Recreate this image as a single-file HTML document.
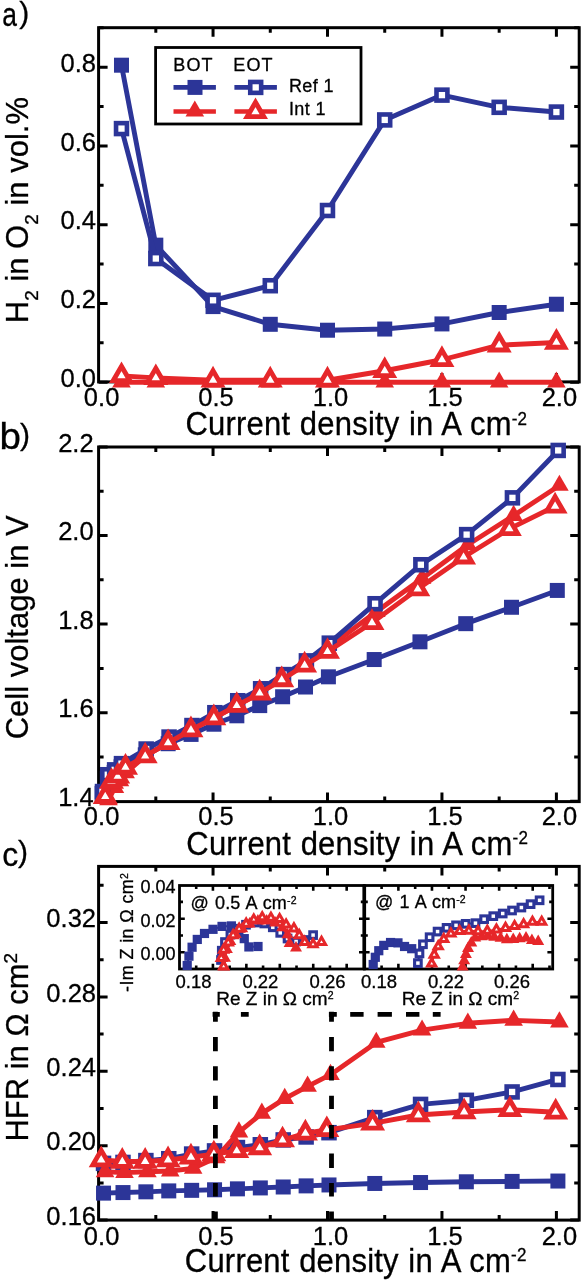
<!DOCTYPE html>
<html><head><meta charset="utf-8"><style>
html,body{margin:0;padding:0;background:#fff;}
svg{display:block;will-change:transform;}
text{font-family:"Liberation Sans",sans-serif;fill:#000;stroke:#000;stroke-width:0.3px;}
</style></head><body>
<svg width="582" height="1280" viewBox="0 0 582 1280" font-family="Liberation Sans, sans-serif">
<rect width="582" height="1280" fill="#fff"/>
<rect x="98.6" y="27.7" width="480.6" height="354.2" fill="none" stroke="#000" stroke-width="3"/>
<path d="M155.82 381.9V376.9M155.82 27.7V32.7M213.05 381.9V372.9M213.05 27.7V36.7M270.27 381.9V376.9M270.27 27.7V32.7M327.5 381.9V372.9M327.5 27.7V36.7M384.73 381.9V376.9M384.73 27.7V32.7M441.95 381.9V372.9M441.95 27.7V36.7M499.17 381.9V376.9M499.17 27.7V32.7M556.4 381.9V372.9M556.4 27.7V36.7M98.6 382.2H107.6M579.2 382.2H570.2M98.6 342.82H103.6M579.2 342.82H574.2M98.6 303.44H107.6M579.2 303.44H570.2M98.6 264.06H103.6M579.2 264.06H574.2M98.6 224.68H107.6M579.2 224.68H570.2M98.6 185.3H103.6M579.2 185.3H574.2M98.6 145.92H107.6M579.2 145.92H570.2M98.6 106.54H103.6M579.2 106.54H574.2M98.6 67.16H107.6M579.2 67.16H570.2M98.6 27.78H103.6M579.2 27.78H574.2" stroke="#000" stroke-width="3" fill="none"/>
<path d="M121.49 65.19L155.82 245.16L213.05 306.59L270.27 324.31L327.5 330.22L384.73 329.04L441.95 323.92L499.17 312.5L556.4 304.23" fill="none" stroke="#2c3598" stroke-width="4.9" stroke-linejoin="round"/>
<rect x="113.99" y="57.69" width="15" height="15" fill="#2c3598"/>
<rect x="148.32" y="237.66" width="15" height="15" fill="#2c3598"/>
<rect x="205.55" y="299.09" width="15" height="15" fill="#2c3598"/>
<rect x="262.77" y="316.81" width="15" height="15" fill="#2c3598"/>
<rect x="320" y="322.72" width="15" height="15" fill="#2c3598"/>
<rect x="377.23" y="321.54" width="15" height="15" fill="#2c3598"/>
<rect x="434.45" y="316.42" width="15" height="15" fill="#2c3598"/>
<rect x="491.67" y="305" width="15" height="15" fill="#2c3598"/>
<rect x="548.9" y="296.73" width="15" height="15" fill="#2c3598"/>
<path d="M121.49 128.59L155.82 258.55L213.05 300.29L270.27 285.72L327.5 210.5L384.73 119.93L441.95 95.12L499.17 107.33L556.4 112.05" fill="none" stroke="#2c3598" stroke-width="4.9" stroke-linejoin="round"/>
<rect x="116.04" y="123.14" width="10.9" height="10.9" fill="#fff" stroke="#2c3598" stroke-width="4.6"/>
<rect x="150.38" y="253.1" width="10.9" height="10.9" fill="#fff" stroke="#2c3598" stroke-width="4.6"/>
<rect x="207.6" y="294.84" width="10.9" height="10.9" fill="#fff" stroke="#2c3598" stroke-width="4.6"/>
<rect x="264.82" y="280.27" width="10.9" height="10.9" fill="#fff" stroke="#2c3598" stroke-width="4.6"/>
<rect x="322.05" y="205.05" width="10.9" height="10.9" fill="#fff" stroke="#2c3598" stroke-width="4.6"/>
<rect x="379.28" y="114.48" width="10.9" height="10.9" fill="#fff" stroke="#2c3598" stroke-width="4.6"/>
<rect x="436.5" y="89.67" width="10.9" height="10.9" fill="#fff" stroke="#2c3598" stroke-width="4.6"/>
<rect x="493.72" y="101.88" width="10.9" height="10.9" fill="#fff" stroke="#2c3598" stroke-width="4.6"/>
<rect x="550.95" y="106.6" width="10.9" height="10.9" fill="#fff" stroke="#2c3598" stroke-width="4.6"/>
<path d="M121.49 382.2L155.82 382.2L213.05 382.2L270.27 382.2L327.5 382.2L384.73 382.2L441.95 382.2L499.17 382.2L556.4 382.2" fill="none" stroke="#e6272a" stroke-width="4.9" stroke-linejoin="round"/>
<path d="M121.49 371.4L130.79 387.6L112.19 387.6Z" fill="#e6272a"/>
<path d="M155.82 371.4L165.12 387.6L146.52 387.6Z" fill="#e6272a"/>
<path d="M213.05 371.4L222.35 387.6L203.75 387.6Z" fill="#e6272a"/>
<path d="M270.27 371.4L279.57 387.6L260.97 387.6Z" fill="#e6272a"/>
<path d="M327.5 371.4L336.8 387.6L318.2 387.6Z" fill="#e6272a"/>
<path d="M384.73 371.4L394.03 387.6L375.43 387.6Z" fill="#e6272a"/>
<path d="M441.95 371.4L451.25 387.6L432.65 387.6Z" fill="#e6272a"/>
<path d="M499.17 371.4L508.47 387.6L489.87 387.6Z" fill="#e6272a"/>
<path d="M556.4 371.4L565.7 387.6L547.1 387.6Z" fill="#e6272a"/>
<path d="M121.49 375.9L155.82 377.87L213.05 380.23L270.27 380.23L327.5 380.23L384.73 370.78L441.95 359.75L499.17 345.18L556.4 342.43" fill="none" stroke="#e6272a" stroke-width="4.9" stroke-linejoin="round"/>
<path d="M121.49 366.27L129.84 380.72L113.14 380.72Z" fill="#fff" stroke="#e6272a" stroke-width="4.8" stroke-linejoin="miter"/>
<path d="M155.82 368.23L164.17 382.68L147.47 382.68Z" fill="#fff" stroke="#e6272a" stroke-width="4.8" stroke-linejoin="miter"/>
<path d="M213.05 370.6L221.4 385.05L204.7 385.05Z" fill="#fff" stroke="#e6272a" stroke-width="4.8" stroke-linejoin="miter"/>
<path d="M270.27 370.6L278.62 385.05L261.92 385.05Z" fill="#fff" stroke="#e6272a" stroke-width="4.8" stroke-linejoin="miter"/>
<path d="M327.5 370.6L335.85 385.05L319.15 385.05Z" fill="#fff" stroke="#e6272a" stroke-width="4.8" stroke-linejoin="miter"/>
<path d="M384.73 361.15L393.08 375.6L376.38 375.6Z" fill="#fff" stroke="#e6272a" stroke-width="4.8" stroke-linejoin="miter"/>
<path d="M441.95 350.12L450.3 364.57L433.6 364.57Z" fill="#fff" stroke="#e6272a" stroke-width="4.8" stroke-linejoin="miter"/>
<path d="M499.17 335.55L507.52 350L490.82 350Z" fill="#fff" stroke="#e6272a" stroke-width="4.8" stroke-linejoin="miter"/>
<path d="M556.4 332.79L564.75 347.24L548.05 347.24Z" fill="#fff" stroke="#e6272a" stroke-width="4.8" stroke-linejoin="miter"/>
<rect x="155.6" y="47.5" width="205.4" height="76.5" fill="#fff" stroke="#000" stroke-width="2.8"/>
<path d="M173.5 87.4H215.9M234.4 87.4H276.9" stroke="#2c3598" stroke-width="4.6"/>
<path d="M173.5 111.5H215.9M234.4 111.5H276.9" stroke="#e6272a" stroke-width="4.6"/>
<rect x="187.5" y="79.9" width="15" height="15" fill="#2c3598"/>
<rect x="250.25" y="81.95" width="10.9" height="10.9" fill="#fff" stroke="#2c3598" stroke-width="4.6"/>
<path d="M194.8 100.4L204.1 116.6L185.5 116.6Z" fill="#e6272a"/>
<path d="M255.5 102.27L263.85 116.72L247.15 116.72Z" fill="#fff" stroke="#e6272a" stroke-width="4.8" stroke-linejoin="miter"/>
<text x="173.3" y="70.7" font-size="18" text-anchor="start" letter-spacing="1.1">BOT</text>
<text x="233.3" y="70.7" font-size="18" text-anchor="start" letter-spacing="1.1">EOT</text>
<text x="288.9" y="91.7" font-size="18" text-anchor="start" letter-spacing="0.4">Ref 1</text>
<text x="288.9" y="114.6" font-size="18" text-anchor="start" letter-spacing="0.4">Int 1</text>
<rect x="98.6" y="447" width="480.6" height="354.6" fill="none" stroke="#000" stroke-width="3"/>
<path d="M155.82 801.6V796.6M155.82 447V452M213.05 801.6V792.6M213.05 447V456M270.27 801.6V796.6M270.27 447V452M327.5 801.6V792.6M327.5 447V456M384.73 801.6V796.6M384.73 447V452M441.95 801.6V792.6M441.95 447V456M499.17 801.6V796.6M499.17 447V452M556.4 801.6V792.6M556.4 447V456M98.6 801.3H107.6M579.2 801.3H570.2M98.6 757H103.6M579.2 757H574.2M98.6 712.7H107.6M579.2 712.7H570.2M98.6 668.4H103.6M579.2 668.4H574.2M98.6 624.1H107.6M579.2 624.1H570.2M98.6 579.8H103.6M579.2 579.8H574.2M98.6 535.5H107.6M579.2 535.5H570.2M98.6 491.2H103.6M579.2 491.2H574.2M98.6 446.9H107.6M579.2 446.9H570.2" stroke="#000" stroke-width="3" fill="none"/>
<path d="M102.09 793.33L107.36 778.26L114.22 772.5L121.09 766.75L145.28 754.79L168.17 743.71L191.06 734.41L213.95 724.22L236.84 715.8L259.73 705.61L282.62 696.75L305.51 687.01L328.4 676.82L374.18 659.54L419.96 641.82L465.74 623.66L511.52 607.27L557.3 590.43" fill="none" stroke="#2c3598" stroke-width="4.9" stroke-linejoin="round"/>
<rect x="94.59" y="785.83" width="15" height="15" fill="#2c3598"/>
<rect x="99.86" y="770.76" width="15" height="15" fill="#2c3598"/>
<rect x="106.72" y="765" width="15" height="15" fill="#2c3598"/>
<rect x="113.59" y="759.25" width="15" height="15" fill="#2c3598"/>
<rect x="137.78" y="747.29" width="15" height="15" fill="#2c3598"/>
<rect x="160.67" y="736.21" width="15" height="15" fill="#2c3598"/>
<rect x="183.56" y="726.91" width="15" height="15" fill="#2c3598"/>
<rect x="206.45" y="716.72" width="15" height="15" fill="#2c3598"/>
<rect x="229.34" y="708.3" width="15" height="15" fill="#2c3598"/>
<rect x="252.23" y="698.11" width="15" height="15" fill="#2c3598"/>
<rect x="275.12" y="689.25" width="15" height="15" fill="#2c3598"/>
<rect x="298.01" y="679.51" width="15" height="15" fill="#2c3598"/>
<rect x="320.9" y="669.32" width="15" height="15" fill="#2c3598"/>
<rect x="366.68" y="652.04" width="15" height="15" fill="#2c3598"/>
<rect x="412.46" y="634.32" width="15" height="15" fill="#2c3598"/>
<rect x="458.24" y="616.16" width="15" height="15" fill="#2c3598"/>
<rect x="504.02" y="599.77" width="15" height="15" fill="#2c3598"/>
<rect x="549.8" y="582.93" width="15" height="15" fill="#2c3598"/>
<path d="M108.47 799.97L114.88 787.57L119.91 780.92L125.63 772.95L145.18 756.11L168.07 742.82L190.96 729.98L213.85 718.02L236.74 705.61L259.63 693.21L281.72 678.59L304.61 663.53L327.5 648.02L376.28 611.7L422.06 578.47L467.84 544.8L513.62 515.57L559.4 485.44" fill="none" stroke="#e6272a" stroke-width="4.9" stroke-linejoin="round"/>
<path d="M108.47 789.17L117.77 805.37L99.17 805.37Z" fill="#e6272a"/>
<path d="M114.88 776.77L124.18 792.97L105.58 792.97Z" fill="#e6272a"/>
<path d="M119.91 770.12L129.21 786.32L110.61 786.32Z" fill="#e6272a"/>
<path d="M125.63 762.15L134.93 778.35L116.33 778.35Z" fill="#e6272a"/>
<path d="M145.18 745.31L154.48 761.51L135.88 761.51Z" fill="#e6272a"/>
<path d="M168.07 732.02L177.37 748.22L158.77 748.22Z" fill="#e6272a"/>
<path d="M190.96 719.18L200.26 735.38L181.66 735.38Z" fill="#e6272a"/>
<path d="M213.85 707.22L223.15 723.42L204.55 723.42Z" fill="#e6272a"/>
<path d="M236.74 694.81L246.04 711.01L227.44 711.01Z" fill="#e6272a"/>
<path d="M259.63 682.41L268.93 698.61L250.33 698.61Z" fill="#e6272a"/>
<path d="M281.72 667.79L291.02 683.99L272.42 683.99Z" fill="#e6272a"/>
<path d="M304.61 652.73L313.91 668.93L295.31 668.93Z" fill="#e6272a"/>
<path d="M327.5 637.22L336.8 653.42L318.2 653.42Z" fill="#e6272a"/>
<path d="M376.28 600.9L385.58 617.1L366.98 617.1Z" fill="#e6272a"/>
<path d="M422.06 567.67L431.36 583.87L412.76 583.87Z" fill="#e6272a"/>
<path d="M467.84 534L477.14 550.2L458.54 550.2Z" fill="#e6272a"/>
<path d="M513.62 504.77L522.92 520.97L504.32 520.97Z" fill="#e6272a"/>
<path d="M559.4 474.64L568.7 490.84L550.1 490.84Z" fill="#e6272a"/>
<path d="M102.49 791.55L107.76 774.72L114.62 769.85L121.49 763.64L146.18 749.03L169.07 737.07L191.96 725.55L214.85 712.7L237.74 700.74L260.63 688.78L283.52 674.6L306.41 660.87L329.3 643.15L375.08 603.72L420.86 564.74L466.64 534.61L512.42 497.85L558.2 450.44" fill="none" stroke="#2c3598" stroke-width="4.9" stroke-linejoin="round"/>
<rect x="97.04" y="786.1" width="10.9" height="10.9" fill="#fff" stroke="#2c3598" stroke-width="4.6"/>
<rect x="102.31" y="769.27" width="10.9" height="10.9" fill="#fff" stroke="#2c3598" stroke-width="4.6"/>
<rect x="109.17" y="764.4" width="10.9" height="10.9" fill="#fff" stroke="#2c3598" stroke-width="4.6"/>
<rect x="116.04" y="758.19" width="10.9" height="10.9" fill="#fff" stroke="#2c3598" stroke-width="4.6"/>
<rect x="140.73" y="743.58" width="10.9" height="10.9" fill="#fff" stroke="#2c3598" stroke-width="4.6"/>
<rect x="163.62" y="731.62" width="10.9" height="10.9" fill="#fff" stroke="#2c3598" stroke-width="4.6"/>
<rect x="186.51" y="720.1" width="10.9" height="10.9" fill="#fff" stroke="#2c3598" stroke-width="4.6"/>
<rect x="209.4" y="707.25" width="10.9" height="10.9" fill="#fff" stroke="#2c3598" stroke-width="4.6"/>
<rect x="232.29" y="695.29" width="10.9" height="10.9" fill="#fff" stroke="#2c3598" stroke-width="4.6"/>
<rect x="255.18" y="683.33" width="10.9" height="10.9" fill="#fff" stroke="#2c3598" stroke-width="4.6"/>
<rect x="278.07" y="669.15" width="10.9" height="10.9" fill="#fff" stroke="#2c3598" stroke-width="4.6"/>
<rect x="300.96" y="655.42" width="10.9" height="10.9" fill="#fff" stroke="#2c3598" stroke-width="4.6"/>
<rect x="323.85" y="637.7" width="10.9" height="10.9" fill="#fff" stroke="#2c3598" stroke-width="4.6"/>
<rect x="369.63" y="598.27" width="10.9" height="10.9" fill="#fff" stroke="#2c3598" stroke-width="4.6"/>
<rect x="415.41" y="559.29" width="10.9" height="10.9" fill="#fff" stroke="#2c3598" stroke-width="4.6"/>
<rect x="461.19" y="529.16" width="10.9" height="10.9" fill="#fff" stroke="#2c3598" stroke-width="4.6"/>
<rect x="506.97" y="492.4" width="10.9" height="10.9" fill="#fff" stroke="#2c3598" stroke-width="4.6"/>
<rect x="552.75" y="444.99" width="10.9" height="10.9" fill="#fff" stroke="#2c3598" stroke-width="4.6"/>
<path d="M105.24 796.69L111.49 781.59L117.69 776.4L125.49 767.41L145.18 756.11L168.07 742.82L190.96 729.98L213.85 718.02L236.74 705.61L259.63 693.21L281.72 679.92L304.61 665.3L327.5 651.57L371.98 622.77L417.76 589.1L463.54 557.21L509.32 528.85L555.1 506.26" fill="none" stroke="#e6272a" stroke-width="4.9" stroke-linejoin="round"/>
<path d="M105.24 787.06L113.59 801.51L96.89 801.51Z" fill="#fff" stroke="#e6272a" stroke-width="4.8" stroke-linejoin="miter"/>
<path d="M111.49 771.95L119.84 786.4L103.14 786.4Z" fill="#fff" stroke="#e6272a" stroke-width="4.8" stroke-linejoin="miter"/>
<path d="M117.69 766.77L126.04 781.22L109.34 781.22Z" fill="#fff" stroke="#e6272a" stroke-width="4.8" stroke-linejoin="miter"/>
<path d="M125.49 757.78L133.84 772.23L117.14 772.23Z" fill="#fff" stroke="#e6272a" stroke-width="4.8" stroke-linejoin="miter"/>
<path d="M145.18 746.48L153.53 760.93L136.83 760.93Z" fill="#fff" stroke="#e6272a" stroke-width="4.8" stroke-linejoin="miter"/>
<path d="M168.07 733.19L176.42 747.64L159.72 747.64Z" fill="#fff" stroke="#e6272a" stroke-width="4.8" stroke-linejoin="miter"/>
<path d="M190.96 720.34L199.31 734.79L182.61 734.79Z" fill="#fff" stroke="#e6272a" stroke-width="4.8" stroke-linejoin="miter"/>
<path d="M213.85 708.38L222.2 722.83L205.5 722.83Z" fill="#fff" stroke="#e6272a" stroke-width="4.8" stroke-linejoin="miter"/>
<path d="M236.74 695.98L245.09 710.43L228.39 710.43Z" fill="#fff" stroke="#e6272a" stroke-width="4.8" stroke-linejoin="miter"/>
<path d="M259.63 683.57L267.98 698.02L251.28 698.02Z" fill="#fff" stroke="#e6272a" stroke-width="4.8" stroke-linejoin="miter"/>
<path d="M281.72 670.28L290.07 684.73L273.37 684.73Z" fill="#fff" stroke="#e6272a" stroke-width="4.8" stroke-linejoin="miter"/>
<path d="M304.61 655.67L312.96 670.12L296.26 670.12Z" fill="#fff" stroke="#e6272a" stroke-width="4.8" stroke-linejoin="miter"/>
<path d="M327.5 641.93L335.85 656.38L319.15 656.38Z" fill="#fff" stroke="#e6272a" stroke-width="4.8" stroke-linejoin="miter"/>
<path d="M371.98 613.14L380.33 627.59L363.63 627.59Z" fill="#fff" stroke="#e6272a" stroke-width="4.8" stroke-linejoin="miter"/>
<path d="M417.76 579.47L426.11 593.92L409.41 593.92Z" fill="#fff" stroke="#e6272a" stroke-width="4.8" stroke-linejoin="miter"/>
<path d="M463.54 547.57L471.89 562.02L455.19 562.02Z" fill="#fff" stroke="#e6272a" stroke-width="4.8" stroke-linejoin="miter"/>
<path d="M509.32 519.22L517.67 533.67L500.97 533.67Z" fill="#fff" stroke="#e6272a" stroke-width="4.8" stroke-linejoin="miter"/>
<path d="M555.1 496.63L563.45 511.08L546.75 511.08Z" fill="#fff" stroke="#e6272a" stroke-width="4.8" stroke-linejoin="miter"/>
<rect x="98.6" y="866.4" width="480.6" height="353.7" fill="none" stroke="#000" stroke-width="3"/>
<path d="M155.82 1220.1V1215.1M155.82 866.4V871.4M213.05 1220.1V1211.1M213.05 866.4V875.4M270.27 1220.1V1215.1M270.27 866.4V871.4M327.5 1220.1V1211.1M327.5 866.4V875.4M384.73 1220.1V1215.1M384.73 866.4V871.4M441.95 1220.1V1211.1M441.95 866.4V875.4M499.17 1220.1V1215.1M499.17 866.4V871.4M556.4 1220.1V1211.1M556.4 866.4V875.4M98.6 1220.1H107.6M579.2 1220.1H570.2M98.6 1182.9H103.6M579.2 1182.9H574.2M98.6 1145.7H107.6M579.2 1145.7H570.2M98.6 1108.5H103.6M579.2 1108.5H574.2M98.6 1071.3H107.6M579.2 1071.3H570.2M98.6 1034.1H103.6M579.2 1034.1H574.2M98.6 996.9H107.6M579.2 996.9H570.2M98.6 959.7H103.6M579.2 959.7H574.2M98.6 922.5H107.6M579.2 922.5H570.2M98.6 885.3H103.6M579.2 885.3H574.2" stroke="#000" stroke-width="3" fill="none"/>
<path d="M103.53 1193.13L122.99 1192.57L145.88 1191.83L168.77 1190.9L191.66 1190.34L214.55 1189.78L237.44 1188.85L260.33 1187.92L283.22 1186.99L306.11 1185.88L329 1184.95L374.78 1183.46L420.56 1182.53L466.34 1181.78L512.12 1181.41L557.9 1181.04" fill="none" stroke="#2c3598" stroke-width="4.9" stroke-linejoin="round"/>
<rect x="96.03" y="1185.63" width="15" height="15" fill="#2c3598"/>
<rect x="115.49" y="1185.07" width="15" height="15" fill="#2c3598"/>
<rect x="138.38" y="1184.33" width="15" height="15" fill="#2c3598"/>
<rect x="161.27" y="1183.4" width="15" height="15" fill="#2c3598"/>
<rect x="184.16" y="1182.84" width="15" height="15" fill="#2c3598"/>
<rect x="207.05" y="1182.28" width="15" height="15" fill="#2c3598"/>
<rect x="229.94" y="1181.35" width="15" height="15" fill="#2c3598"/>
<rect x="252.83" y="1180.42" width="15" height="15" fill="#2c3598"/>
<rect x="275.72" y="1179.49" width="15" height="15" fill="#2c3598"/>
<rect x="298.61" y="1178.38" width="15" height="15" fill="#2c3598"/>
<rect x="321.5" y="1177.45" width="15" height="15" fill="#2c3598"/>
<rect x="367.28" y="1175.96" width="15" height="15" fill="#2c3598"/>
<rect x="413.06" y="1175.03" width="15" height="15" fill="#2c3598"/>
<rect x="458.84" y="1174.28" width="15" height="15" fill="#2c3598"/>
<rect x="504.62" y="1173.91" width="15" height="15" fill="#2c3598"/>
<rect x="550.4" y="1173.54" width="15" height="15" fill="#2c3598"/>
<path d="M103.53 1163.37L122.99 1162.44L145.88 1160.58L168.77 1158.72L191.66 1154.07L214.55 1150.91L237.44 1147.56L260.33 1144.77L283.22 1139.93L306.11 1136.96L329 1132.68L374.78 1117.61L420.56 1104.41L466.34 1100.32L512.12 1091.95L557.9 1079.48" fill="none" stroke="#2c3598" stroke-width="4.9" stroke-linejoin="round"/>
<rect x="98.08" y="1157.92" width="10.9" height="10.9" fill="#fff" stroke="#2c3598" stroke-width="4.6"/>
<rect x="117.54" y="1156.99" width="10.9" height="10.9" fill="#fff" stroke="#2c3598" stroke-width="4.6"/>
<rect x="140.43" y="1155.13" width="10.9" height="10.9" fill="#fff" stroke="#2c3598" stroke-width="4.6"/>
<rect x="163.32" y="1153.27" width="10.9" height="10.9" fill="#fff" stroke="#2c3598" stroke-width="4.6"/>
<rect x="186.21" y="1148.62" width="10.9" height="10.9" fill="#fff" stroke="#2c3598" stroke-width="4.6"/>
<rect x="209.1" y="1145.46" width="10.9" height="10.9" fill="#fff" stroke="#2c3598" stroke-width="4.6"/>
<rect x="231.99" y="1142.11" width="10.9" height="10.9" fill="#fff" stroke="#2c3598" stroke-width="4.6"/>
<rect x="254.88" y="1139.32" width="10.9" height="10.9" fill="#fff" stroke="#2c3598" stroke-width="4.6"/>
<rect x="277.77" y="1134.48" width="10.9" height="10.9" fill="#fff" stroke="#2c3598" stroke-width="4.6"/>
<rect x="300.66" y="1131.51" width="10.9" height="10.9" fill="#fff" stroke="#2c3598" stroke-width="4.6"/>
<rect x="323.55" y="1127.23" width="10.9" height="10.9" fill="#fff" stroke="#2c3598" stroke-width="4.6"/>
<rect x="369.33" y="1112.16" width="10.9" height="10.9" fill="#fff" stroke="#2c3598" stroke-width="4.6"/>
<rect x="415.11" y="1098.96" width="10.9" height="10.9" fill="#fff" stroke="#2c3598" stroke-width="4.6"/>
<rect x="460.89" y="1094.87" width="10.9" height="10.9" fill="#fff" stroke="#2c3598" stroke-width="4.6"/>
<rect x="506.67" y="1086.5" width="10.9" height="10.9" fill="#fff" stroke="#2c3598" stroke-width="4.6"/>
<rect x="552.45" y="1074.03" width="10.9" height="10.9" fill="#fff" stroke="#2c3598" stroke-width="4.6"/>
<path d="M105.03 1171.74L124.49 1172.67L147.38 1171.74L170.27 1171L193.16 1168.39L216.05 1157.79L238.94 1132.12L261.83 1113.34L284.72 1098.64L307.61 1086.37L330.5 1074.65L376.28 1042.47L422.06 1030.19L467.84 1023.31L513.62 1020.34L559.4 1022.01" fill="none" stroke="#e6272a" stroke-width="4.9" stroke-linejoin="round"/>
<path d="M105.03 1160.94L114.33 1177.14L95.73 1177.14Z" fill="#e6272a"/>
<path d="M124.49 1161.87L133.79 1178.07L115.19 1178.07Z" fill="#e6272a"/>
<path d="M147.38 1160.94L156.68 1177.14L138.08 1177.14Z" fill="#e6272a"/>
<path d="M170.27 1160.2L179.57 1176.4L160.97 1176.4Z" fill="#e6272a"/>
<path d="M193.16 1157.59L202.46 1173.79L183.86 1173.79Z" fill="#e6272a"/>
<path d="M216.05 1146.99L225.35 1163.19L206.75 1163.19Z" fill="#e6272a"/>
<path d="M238.94 1121.32L248.24 1137.52L229.64 1137.52Z" fill="#e6272a"/>
<path d="M261.83 1102.54L271.13 1118.74L252.53 1118.74Z" fill="#e6272a"/>
<path d="M284.72 1087.84L294.02 1104.04L275.42 1104.04Z" fill="#e6272a"/>
<path d="M307.61 1075.57L316.91 1091.77L298.31 1091.77Z" fill="#e6272a"/>
<path d="M330.5 1063.85L339.8 1080.05L321.2 1080.05Z" fill="#e6272a"/>
<path d="M376.28 1031.67L385.58 1047.87L366.98 1047.87Z" fill="#e6272a"/>
<path d="M422.06 1019.39L431.36 1035.59L412.76 1035.59Z" fill="#e6272a"/>
<path d="M467.84 1012.51L477.14 1028.71L458.54 1028.71Z" fill="#e6272a"/>
<path d="M513.62 1009.54L522.92 1025.74L504.32 1025.74Z" fill="#e6272a"/>
<path d="M559.4 1011.21L568.7 1027.41L550.1 1027.41Z" fill="#e6272a"/>
<path d="M101.23 1160.02L122.29 1161.51L145.18 1161.51L168.07 1160.02L190.96 1157.23L213.85 1154.07L236.74 1150.91L259.63 1147.93L282.52 1140.12L305.41 1133.24L326.8 1129.89L372.58 1123.38L418.36 1115.01L464.14 1112.03L509.92 1109.8L555.7 1112.22" fill="none" stroke="#e6272a" stroke-width="4.9" stroke-linejoin="round"/>
<path d="M101.23 1150.39L109.58 1164.84L92.88 1164.84Z" fill="#fff" stroke="#e6272a" stroke-width="4.8" stroke-linejoin="miter"/>
<path d="M122.29 1151.88L130.64 1166.33L113.94 1166.33Z" fill="#fff" stroke="#e6272a" stroke-width="4.8" stroke-linejoin="miter"/>
<path d="M145.18 1151.88L153.53 1166.33L136.83 1166.33Z" fill="#fff" stroke="#e6272a" stroke-width="4.8" stroke-linejoin="miter"/>
<path d="M168.07 1150.39L176.42 1164.84L159.72 1164.84Z" fill="#fff" stroke="#e6272a" stroke-width="4.8" stroke-linejoin="miter"/>
<path d="M190.96 1147.6L199.31 1162.05L182.61 1162.05Z" fill="#fff" stroke="#e6272a" stroke-width="4.8" stroke-linejoin="miter"/>
<path d="M213.85 1144.44L222.2 1158.89L205.5 1158.89Z" fill="#fff" stroke="#e6272a" stroke-width="4.8" stroke-linejoin="miter"/>
<path d="M236.74 1141.27L245.09 1155.72L228.39 1155.72Z" fill="#fff" stroke="#e6272a" stroke-width="4.8" stroke-linejoin="miter"/>
<path d="M259.63 1138.3L267.98 1152.75L251.28 1152.75Z" fill="#fff" stroke="#e6272a" stroke-width="4.8" stroke-linejoin="miter"/>
<path d="M282.52 1130.49L290.87 1144.94L274.17 1144.94Z" fill="#fff" stroke="#e6272a" stroke-width="4.8" stroke-linejoin="miter"/>
<path d="M305.41 1123.6L313.76 1138.05L297.06 1138.05Z" fill="#fff" stroke="#e6272a" stroke-width="4.8" stroke-linejoin="miter"/>
<path d="M326.8 1120.26L335.15 1134.71L318.45 1134.71Z" fill="#fff" stroke="#e6272a" stroke-width="4.8" stroke-linejoin="miter"/>
<path d="M372.58 1113.75L380.93 1128.2L364.23 1128.2Z" fill="#fff" stroke="#e6272a" stroke-width="4.8" stroke-linejoin="miter"/>
<path d="M418.36 1105.38L426.71 1119.83L410.01 1119.83Z" fill="#fff" stroke="#e6272a" stroke-width="4.8" stroke-linejoin="miter"/>
<path d="M464.14 1102.4L472.49 1116.85L455.79 1116.85Z" fill="#fff" stroke="#e6272a" stroke-width="4.8" stroke-linejoin="miter"/>
<path d="M509.92 1100.17L518.27 1114.62L501.57 1114.62Z" fill="#fff" stroke="#e6272a" stroke-width="4.8" stroke-linejoin="miter"/>
<path d="M555.7 1102.59L564.05 1117.04L547.35 1117.04Z" fill="#fff" stroke="#e6272a" stroke-width="4.8" stroke-linejoin="miter"/>
<path d="M215.4 1011.7V1021.8M215.4 1036.9V1051.2M215.4 1066.3V1080.6M215.4 1095.7V1109.1M215.4 1125.1V1138.5M215.4 1153.6V1167.9M215.4 1183V1196.5M215.4 1211.6V1220M331.5 1011.7V1021.8M331.5 1036.9V1051.2M331.5 1066.3V1080.6M331.5 1095.7V1109.1M331.5 1125.1V1138.5M331.5 1153.6V1167.9M331.5 1183V1196.5M331.5 1211.6V1220M212.6 1014.3H219.8M240.9 1014.3H248.7M328.9 1014.3H336.8M350.2 1014.3H363.6M377.6 1014.3H391.9M406 1014.3H419.4M432.8 1014.3H440.6" stroke="#000" stroke-width="4.8" fill="none"/>
<rect x="179.5" y="885.5" width="184.8" height="83.5" fill="#fff" stroke="#000" stroke-width="2.8"/>
<path d="M196.2 969V965.5M196.2 885.5V889M212.92 969V963.7M212.92 885.5V890.8M229.64 969V965.5M229.64 885.5V889M246.36 969V963.7M246.36 885.5V890.8M263.08 969V965.5M263.08 885.5V889M279.8 969V963.7M279.8 885.5V890.8M296.52 969V965.5M296.52 885.5V889M313.24 969V963.7M313.24 885.5V890.8M329.96 969V965.5M329.96 885.5V889M346.68 969V963.7M346.68 885.5V890.8M179.5 952.3H184.8M364.3 952.3H359M179.5 935.5H183M364.3 935.5H360.8M179.5 918.7H184.8M364.3 918.7H359M179.5 901.9H183M364.3 901.9H360.8" stroke="#000" stroke-width="2.6" fill="none"/>
<rect x="364.3" y="885.5" width="188.4" height="83.5" fill="#fff" stroke="#000" stroke-width="2.8"/>
<path d="M381.6 969V965.5M381.6 885.5V889M398.39 969V963.7M398.39 885.5V890.8M415.18 969V965.5M415.18 885.5V889M431.97 969V963.7M431.97 885.5V890.8M448.76 969V965.5M448.76 885.5V889M465.55 969V963.7M465.55 885.5V890.8M482.34 969V965.5M482.34 885.5V889M499.13 969V963.7M499.13 885.5V890.8M515.92 969V965.5M515.92 885.5V889M532.71 969V963.7M532.71 885.5V890.8M549.5 969V965.5M549.5 885.5V889M364.3 952.3H369.6M552.7 952.3H547.4M364.3 935.5H367.8M552.7 935.5H549.2M364.3 918.7H369.6M552.7 918.7H547.4M364.3 901.9H367.8M552.7 901.9H549.2" stroke="#000" stroke-width="2.6" fill="none"/>
<path d="M187.2 965.5L188.94 956.16L192.08 947.22L197.28 939.43L204.49 933.47L213.02 929.32L222.04 926.4L231.37 925.91L238.84 930.88L244.26 938.64L248.89 946.93L258 946.5" fill="none" stroke="#2c3598" stroke-width="2" stroke-linejoin="round"/>
<rect x="182.6" y="960.9" width="9.2" height="9.2" fill="#2c3598"/>
<rect x="184.34" y="951.56" width="9.2" height="9.2" fill="#2c3598"/>
<rect x="187.48" y="942.62" width="9.2" height="9.2" fill="#2c3598"/>
<rect x="192.68" y="934.83" width="9.2" height="9.2" fill="#2c3598"/>
<rect x="199.89" y="928.87" width="9.2" height="9.2" fill="#2c3598"/>
<rect x="208.42" y="924.72" width="9.2" height="9.2" fill="#2c3598"/>
<rect x="217.44" y="921.8" width="9.2" height="9.2" fill="#2c3598"/>
<rect x="226.77" y="921.31" width="9.2" height="9.2" fill="#2c3598"/>
<rect x="234.24" y="926.28" width="9.2" height="9.2" fill="#2c3598"/>
<rect x="239.66" y="934.04" width="9.2" height="9.2" fill="#2c3598"/>
<rect x="244.29" y="942.33" width="9.2" height="9.2" fill="#2c3598"/>
<rect x="253.4" y="941.9" width="9.2" height="9.2" fill="#2c3598"/>
<path d="M221 960L221.78 950.69L224.98 942.05L230.41 934.59L237.55 928.72L245.99 924.75L255.06 922.51L264.35 923.48L272.8 927.32L280.23 932.84L287.55 938.52L296.09 941.52L305.14 939.99L313.1 935.1" fill="none" stroke="#2c3598" stroke-width="2" stroke-linejoin="round"/>
<rect x="217.7" y="956.7" width="6.6" height="6.6" fill="#fff" stroke="#2c3598" stroke-width="3.1"/>
<rect x="218.48" y="947.39" width="6.6" height="6.6" fill="#fff" stroke="#2c3598" stroke-width="3.1"/>
<rect x="221.68" y="938.75" width="6.6" height="6.6" fill="#fff" stroke="#2c3598" stroke-width="3.1"/>
<rect x="227.11" y="931.29" width="6.6" height="6.6" fill="#fff" stroke="#2c3598" stroke-width="3.1"/>
<rect x="234.25" y="925.42" width="6.6" height="6.6" fill="#fff" stroke="#2c3598" stroke-width="3.1"/>
<rect x="242.69" y="921.45" width="6.6" height="6.6" fill="#fff" stroke="#2c3598" stroke-width="3.1"/>
<rect x="251.76" y="919.21" width="6.6" height="6.6" fill="#fff" stroke="#2c3598" stroke-width="3.1"/>
<rect x="261.05" y="920.18" width="6.6" height="6.6" fill="#fff" stroke="#2c3598" stroke-width="3.1"/>
<rect x="269.5" y="924.02" width="6.6" height="6.6" fill="#fff" stroke="#2c3598" stroke-width="3.1"/>
<rect x="276.93" y="929.54" width="6.6" height="6.6" fill="#fff" stroke="#2c3598" stroke-width="3.1"/>
<rect x="284.25" y="935.22" width="6.6" height="6.6" fill="#fff" stroke="#2c3598" stroke-width="3.1"/>
<rect x="292.79" y="938.22" width="6.6" height="6.6" fill="#fff" stroke="#2c3598" stroke-width="3.1"/>
<rect x="301.84" y="936.69" width="6.6" height="6.6" fill="#fff" stroke="#2c3598" stroke-width="3.1"/>
<rect x="309.8" y="931.8" width="6.6" height="6.6" fill="#fff" stroke="#2c3598" stroke-width="3.1"/>
<path d="M224 967L224.97 958.23L226.86 949.62L230.32 941.52L235.71 934.61L242.22 928.72L249.6 924.05L257.89 921.04L266.7 921L275.13 923.05L282.18 927.83L287.56 934.82L289.6 943.38L296 948" fill="none" stroke="#e6272a" stroke-width="2" stroke-linejoin="round"/>
<path d="M224 960L230 970.5L218 970.5Z" fill="#e6272a"/>
<path d="M224.97 951.23L230.97 961.73L218.97 961.73Z" fill="#e6272a"/>
<path d="M226.86 942.62L232.86 953.12L220.86 953.12Z" fill="#e6272a"/>
<path d="M230.32 934.52L236.32 945.02L224.32 945.02Z" fill="#e6272a"/>
<path d="M235.71 927.61L241.71 938.11L229.71 938.11Z" fill="#e6272a"/>
<path d="M242.22 921.72L248.22 932.22L236.22 932.22Z" fill="#e6272a"/>
<path d="M249.6 917.05L255.6 927.55L243.6 927.55Z" fill="#e6272a"/>
<path d="M257.89 914.04L263.89 924.54L251.89 924.54Z" fill="#e6272a"/>
<path d="M266.7 914L272.7 924.5L260.7 924.5Z" fill="#e6272a"/>
<path d="M275.13 916.05L281.13 926.55L269.13 926.55Z" fill="#e6272a"/>
<path d="M282.18 920.83L288.18 931.33L276.18 931.33Z" fill="#e6272a"/>
<path d="M287.56 927.82L293.56 938.32L281.56 938.32Z" fill="#e6272a"/>
<path d="M289.6 936.38L295.6 946.88L283.6 946.88Z" fill="#e6272a"/>
<path d="M296 941L302 951.5L290 951.5Z" fill="#e6272a"/>
<path d="M223.6 966.4L221.28 958.18L223.56 949.89L228.28 942.53L233.13 935.29L239.12 928.92L246.15 923.76L253.76 919.68L262.22 917.47L270.94 917.93L279.58 919.25L286.1 924.68L293.92 928.51L299.23 935.26L304.69 942.09L313.05 944.35L321.5 942.1" fill="none" stroke="#e6272a" stroke-width="2" stroke-linejoin="round"/>
<path d="M223.6 961.67L227.7 968.77L219.5 968.77Z" fill="#fff" stroke="#e6272a" stroke-width="3" stroke-linejoin="miter"/>
<path d="M221.28 953.44L225.38 960.54L217.18 960.54Z" fill="#fff" stroke="#e6272a" stroke-width="3" stroke-linejoin="miter"/>
<path d="M223.56 945.16L227.66 952.26L219.46 952.26Z" fill="#fff" stroke="#e6272a" stroke-width="3" stroke-linejoin="miter"/>
<path d="M228.28 937.79L232.38 944.89L224.18 944.89Z" fill="#fff" stroke="#e6272a" stroke-width="3" stroke-linejoin="miter"/>
<path d="M233.13 930.56L237.23 937.66L229.03 937.66Z" fill="#fff" stroke="#e6272a" stroke-width="3" stroke-linejoin="miter"/>
<path d="M239.12 924.19L243.22 931.29L235.02 931.29Z" fill="#fff" stroke="#e6272a" stroke-width="3" stroke-linejoin="miter"/>
<path d="M246.15 919.03L250.25 926.13L242.05 926.13Z" fill="#fff" stroke="#e6272a" stroke-width="3" stroke-linejoin="miter"/>
<path d="M253.76 914.95L257.86 922.05L249.66 922.05Z" fill="#fff" stroke="#e6272a" stroke-width="3" stroke-linejoin="miter"/>
<path d="M262.22 912.74L266.32 919.84L258.12 919.84Z" fill="#fff" stroke="#e6272a" stroke-width="3" stroke-linejoin="miter"/>
<path d="M270.94 913.19L275.04 920.29L266.84 920.29Z" fill="#fff" stroke="#e6272a" stroke-width="3" stroke-linejoin="miter"/>
<path d="M279.58 914.51L283.68 921.61L275.48 921.61Z" fill="#fff" stroke="#e6272a" stroke-width="3" stroke-linejoin="miter"/>
<path d="M286.1 919.95L290.2 927.05L282 927.05Z" fill="#fff" stroke="#e6272a" stroke-width="3" stroke-linejoin="miter"/>
<path d="M293.92 923.78L298.02 930.88L289.82 930.88Z" fill="#fff" stroke="#e6272a" stroke-width="3" stroke-linejoin="miter"/>
<path d="M299.23 930.53L303.33 937.63L295.13 937.63Z" fill="#fff" stroke="#e6272a" stroke-width="3" stroke-linejoin="miter"/>
<path d="M304.69 937.35L308.79 944.45L300.59 944.45Z" fill="#fff" stroke="#e6272a" stroke-width="3" stroke-linejoin="miter"/>
<path d="M313.05 939.62L317.15 946.72L308.95 946.72Z" fill="#fff" stroke="#e6272a" stroke-width="3" stroke-linejoin="miter"/>
<path d="M321.5 937.37L325.6 944.47L317.4 944.47Z" fill="#fff" stroke="#e6272a" stroke-width="3" stroke-linejoin="miter"/>
<path d="M373.2 964.5L375.3 957.29L378.77 950.71L383.77 945.38L390.55 942.5L397.97 942.87L404.55 946.48L411.7 948.7" fill="none" stroke="#2c3598" stroke-width="2" stroke-linejoin="round"/>
<rect x="368.6" y="959.9" width="9.2" height="9.2" fill="#2c3598"/>
<rect x="370.7" y="952.69" width="9.2" height="9.2" fill="#2c3598"/>
<rect x="374.17" y="946.11" width="9.2" height="9.2" fill="#2c3598"/>
<rect x="379.17" y="940.78" width="9.2" height="9.2" fill="#2c3598"/>
<rect x="385.95" y="937.9" width="9.2" height="9.2" fill="#2c3598"/>
<rect x="393.37" y="938.27" width="9.2" height="9.2" fill="#2c3598"/>
<rect x="399.95" y="941.88" width="9.2" height="9.2" fill="#2c3598"/>
<rect x="407.1" y="944.1" width="9.2" height="9.2" fill="#2c3598"/>
<path d="M417.9 963.1L419.48 953.42L422.95 944.29L429.61 937.21L437.57 931.57L446.57 927.86L456.03 925.33L465.7 923.84L475.48 923.17L484.13 919.2L493.29 916.16L502.71 913.51L512.04 910.49L521.39 907.54L530.58 904.15L539.6 900.3" fill="none" stroke="#2c3598" stroke-width="2" stroke-linejoin="round"/>
<rect x="414.6" y="959.8" width="6.6" height="6.6" fill="#fff" stroke="#2c3598" stroke-width="3.1"/>
<rect x="416.18" y="950.12" width="6.6" height="6.6" fill="#fff" stroke="#2c3598" stroke-width="3.1"/>
<rect x="419.65" y="940.99" width="6.6" height="6.6" fill="#fff" stroke="#2c3598" stroke-width="3.1"/>
<rect x="426.31" y="933.91" width="6.6" height="6.6" fill="#fff" stroke="#2c3598" stroke-width="3.1"/>
<rect x="434.27" y="928.27" width="6.6" height="6.6" fill="#fff" stroke="#2c3598" stroke-width="3.1"/>
<rect x="443.27" y="924.56" width="6.6" height="6.6" fill="#fff" stroke="#2c3598" stroke-width="3.1"/>
<rect x="452.73" y="922.03" width="6.6" height="6.6" fill="#fff" stroke="#2c3598" stroke-width="3.1"/>
<rect x="462.4" y="920.54" width="6.6" height="6.6" fill="#fff" stroke="#2c3598" stroke-width="3.1"/>
<rect x="472.18" y="919.87" width="6.6" height="6.6" fill="#fff" stroke="#2c3598" stroke-width="3.1"/>
<rect x="480.83" y="915.9" width="6.6" height="6.6" fill="#fff" stroke="#2c3598" stroke-width="3.1"/>
<rect x="489.99" y="912.86" width="6.6" height="6.6" fill="#fff" stroke="#2c3598" stroke-width="3.1"/>
<rect x="499.41" y="910.21" width="6.6" height="6.6" fill="#fff" stroke="#2c3598" stroke-width="3.1"/>
<rect x="508.74" y="907.19" width="6.6" height="6.6" fill="#fff" stroke="#2c3598" stroke-width="3.1"/>
<rect x="518.09" y="904.24" width="6.6" height="6.6" fill="#fff" stroke="#2c3598" stroke-width="3.1"/>
<rect x="527.28" y="900.85" width="6.6" height="6.6" fill="#fff" stroke="#2c3598" stroke-width="3.1"/>
<rect x="536.3" y="897" width="6.6" height="6.6" fill="#fff" stroke="#2c3598" stroke-width="3.1"/>
<path d="M462.6 966.9L464.19 960.67L465.9 954.47L468.03 948.4L471.27 942.93L475.24 937.95L481.55 936.69L487.89 936.36L494.27 937.16L500.59 938.32L506.86 939.74L513.24 939.48L519.64 938.81L526.02 938.06L531.9 940.49L538.2 941.5" fill="none" stroke="#e6272a" stroke-width="2" stroke-linejoin="round"/>
<path d="M462.6 959.9L468.6 970.4L456.6 970.4Z" fill="#e6272a"/>
<path d="M464.19 953.67L470.19 964.17L458.19 964.17Z" fill="#e6272a"/>
<path d="M465.9 947.47L471.9 957.97L459.9 957.97Z" fill="#e6272a"/>
<path d="M468.03 941.4L474.03 951.9L462.03 951.9Z" fill="#e6272a"/>
<path d="M471.27 935.93L477.27 946.43L465.27 946.43Z" fill="#e6272a"/>
<path d="M475.24 930.95L481.24 941.45L469.24 941.45Z" fill="#e6272a"/>
<path d="M481.55 929.69L487.55 940.19L475.55 940.19Z" fill="#e6272a"/>
<path d="M487.89 929.36L493.89 939.86L481.89 939.86Z" fill="#e6272a"/>
<path d="M494.27 930.16L500.27 940.66L488.27 940.66Z" fill="#e6272a"/>
<path d="M500.59 931.32L506.59 941.82L494.59 941.82Z" fill="#e6272a"/>
<path d="M506.86 932.74L512.86 943.24L500.86 943.24Z" fill="#e6272a"/>
<path d="M513.24 932.48L519.24 942.98L507.24 942.98Z" fill="#e6272a"/>
<path d="M519.64 931.81L525.64 942.31L513.64 942.31Z" fill="#e6272a"/>
<path d="M526.02 931.06L532.02 941.56L520.02 941.56Z" fill="#e6272a"/>
<path d="M531.9 933.49L537.9 943.99L525.9 943.99Z" fill="#e6272a"/>
<path d="M538.2 934.5L544.2 945L532.2 945Z" fill="#e6272a"/>
<path d="M431.7 963.7L434.2 954.81L438.2 946.5L443.75 939.17L450.9 933.66L459.63 931.17L468.85 930.78L478.07 931.27L487.29 930.91L496.44 929.73L505.52 928.09L514.57 926.24L523.6 924.43L532.46 921.9L541.7 921.9" fill="none" stroke="#e6272a" stroke-width="2" stroke-linejoin="round"/>
<path d="M431.7 958.97L435.8 966.07L427.6 966.07Z" fill="#fff" stroke="#e6272a" stroke-width="3" stroke-linejoin="miter"/>
<path d="M434.2 950.07L438.3 957.17L430.1 957.17Z" fill="#fff" stroke="#e6272a" stroke-width="3" stroke-linejoin="miter"/>
<path d="M438.2 941.76L442.3 948.86L434.1 948.86Z" fill="#fff" stroke="#e6272a" stroke-width="3" stroke-linejoin="miter"/>
<path d="M443.75 934.44L447.85 941.54L439.65 941.54Z" fill="#fff" stroke="#e6272a" stroke-width="3" stroke-linejoin="miter"/>
<path d="M450.9 928.93L455 936.03L446.8 936.03Z" fill="#fff" stroke="#e6272a" stroke-width="3" stroke-linejoin="miter"/>
<path d="M459.63 926.43L463.73 933.53L455.53 933.53Z" fill="#fff" stroke="#e6272a" stroke-width="3" stroke-linejoin="miter"/>
<path d="M468.85 926.04L472.95 933.14L464.75 933.14Z" fill="#fff" stroke="#e6272a" stroke-width="3" stroke-linejoin="miter"/>
<path d="M478.07 926.54L482.17 933.64L473.97 933.64Z" fill="#fff" stroke="#e6272a" stroke-width="3" stroke-linejoin="miter"/>
<path d="M487.29 926.17L491.39 933.27L483.19 933.27Z" fill="#fff" stroke="#e6272a" stroke-width="3" stroke-linejoin="miter"/>
<path d="M496.44 925L500.54 932.1L492.34 932.1Z" fill="#fff" stroke="#e6272a" stroke-width="3" stroke-linejoin="miter"/>
<path d="M505.52 923.35L509.62 930.45L501.42 930.45Z" fill="#fff" stroke="#e6272a" stroke-width="3" stroke-linejoin="miter"/>
<path d="M514.57 921.51L518.67 928.61L510.47 928.61Z" fill="#fff" stroke="#e6272a" stroke-width="3" stroke-linejoin="miter"/>
<path d="M523.6 919.7L527.7 926.8L519.5 926.8Z" fill="#fff" stroke="#e6272a" stroke-width="3" stroke-linejoin="miter"/>
<path d="M532.46 917.17L536.56 924.27L528.36 924.27Z" fill="#fff" stroke="#e6272a" stroke-width="3" stroke-linejoin="miter"/>
<path d="M541.7 917.17L545.8 924.27L537.6 924.27Z" fill="#fff" stroke="#e6272a" stroke-width="3" stroke-linejoin="miter"/>
<path d="M364.3 885.5V969" stroke="#000" stroke-width="3.6"/>
<text transform="translate(2.2 25.8) scale(0.8 1)" font-size="33">a</text>
<text transform="translate(19.2 23.2) scale(1 1)" font-size="30">)</text>
<text transform="translate(-0.5 449) scale(1.07 1)" font-size="36">b</text>
<text transform="translate(20 445.3) scale(1 1)" font-size="30">)</text>
<text transform="translate(2.2 865.9) scale(0.97 1)" font-size="33">c</text>
<text transform="translate(18 862.3) scale(1 1)" font-size="30">)</text>
<text x="96" y="386.8" font-size="25.5" text-anchor="end" >0.0</text>
<text x="96" y="308.04" font-size="25.5" text-anchor="end" >0.2</text>
<text x="96" y="229.28" font-size="25.5" text-anchor="end" >0.4</text>
<text x="96" y="150.52" font-size="25.5" text-anchor="end" >0.6</text>
<text x="96" y="71.76" font-size="25.5" text-anchor="end" >0.8</text>
<text x="93.6" y="805.9" font-size="25.5" text-anchor="end" >1.4</text>
<text x="93.6" y="717.3" font-size="25.5" text-anchor="end" >1.6</text>
<text x="93.6" y="628.7" font-size="25.5" text-anchor="end" >1.8</text>
<text x="93.6" y="540.1" font-size="25.5" text-anchor="end" >2.0</text>
<text x="93.6" y="451.5" font-size="25.5" text-anchor="end" >2.2</text>
<text x="96" y="1224.7" font-size="25.5" text-anchor="end" >0.16</text>
<text x="96" y="1150.3" font-size="25.5" text-anchor="end" >0.20</text>
<text x="96" y="1075.9" font-size="25.5" text-anchor="end" >0.24</text>
<text x="96" y="1001.5" font-size="25.5" text-anchor="end" >0.28</text>
<text x="96" y="927.1" font-size="25.5" text-anchor="end" >0.32</text>
<text x="101.6" y="406" font-size="25.5" text-anchor="middle" >0.0</text>
<text x="216.05" y="406" font-size="25.5" text-anchor="middle" >0.5</text>
<text x="330.5" y="406" font-size="25.5" text-anchor="middle" >1.0</text>
<text x="444.95" y="406" font-size="25.5" text-anchor="middle" >1.5</text>
<text x="559.4" y="406" font-size="25.5" text-anchor="middle" >2.0</text>
<text x="101.6" y="824.7" font-size="25.5" text-anchor="middle" >0.0</text>
<text x="216.05" y="824.7" font-size="25.5" text-anchor="middle" >0.5</text>
<text x="330.5" y="824.7" font-size="25.5" text-anchor="middle" >1.0</text>
<text x="444.95" y="824.7" font-size="25.5" text-anchor="middle" >1.5</text>
<text x="559.4" y="824.7" font-size="25.5" text-anchor="middle" >2.0</text>
<text x="101.6" y="1244.9" font-size="25.5" text-anchor="middle" >0.0</text>
<text x="216.05" y="1244.9" font-size="25.5" text-anchor="middle" >0.5</text>
<text x="330.5" y="1244.9" font-size="25.5" text-anchor="middle" >1.0</text>
<text x="444.95" y="1244.9" font-size="25.5" text-anchor="middle" >1.5</text>
<text x="559.4" y="1244.9" font-size="25.5" text-anchor="middle" >2.0</text>
<text transform="translate(185.5 435.1) scale(1 1.05)" font-size="31" letter-spacing="0.22" word-spacing="0.65">Current density in A cm<tspan dy="-10" font-size="17">-2</tspan></text>
<text transform="translate(186.3 854.6) scale(1 1.05)" font-size="31" letter-spacing="0.22" word-spacing="0.65">Current density in A cm<tspan dy="-10" font-size="17">-2</tspan></text>
<text transform="translate(184.8 1271.5) scale(1 1.05)" font-size="31" letter-spacing="0.22" word-spacing="0.65">Current density in A cm<tspan dy="-10" font-size="17">-2</tspan></text>
<text transform="translate(27.8 323.2) rotate(-90)" font-size="31">H<tspan dy="10" font-size="19">2</tspan><tspan dy="-10"> in O</tspan><tspan dy="10" font-size="19">2</tspan><tspan dy="-10"> in vol.%</tspan></text>
<text transform="translate(27.8 739.3) rotate(-90)" font-size="31">Cell voltage in V</text>
<text transform="translate(27.8 1141.6) rotate(-90)" font-size="31">HFR in &#937; cm<tspan dy="-11" font-size="19">2</tspan></text>
<text x="175.6" y="893" font-size="18" text-anchor="end" >0.04</text>
<text x="175.6" y="926.5" font-size="18" text-anchor="end" >0.02</text>
<text x="175.6" y="960.2" font-size="18" text-anchor="end" >0.00</text>
<text x="193.6" y="988.3" font-size="18.5" text-anchor="middle" >0.18</text>
<text x="260.4" y="988.3" font-size="18.5" text-anchor="middle" >0.22</text>
<text x="327.5" y="988.3" font-size="18.5" text-anchor="middle" >0.26</text>
<text x="379" y="988.3" font-size="18.5" text-anchor="middle" >0.18</text>
<text x="446" y="988.3" font-size="18.5" text-anchor="middle" >0.22</text>
<text x="512" y="988.3" font-size="18.5" text-anchor="middle" >0.26</text>
<text x="216.3" y="1004.6" font-size="19" text-anchor="start" >Re Z in &#937; cm<tspan dy="-5.8" font-size="10.5">2</tspan></text>
<text x="401.8" y="1004.6" font-size="19" text-anchor="start" >Re Z in &#937; cm<tspan dy="-5.8" font-size="10.5">2</tspan></text>
<text transform="translate(133.4 991.9) rotate(-90)" font-size="18" letter-spacing="0.35">-Im Z in &#937; cm<tspan dy="-5.8" font-size="10.5">2</tspan></text>
<text x="190.5" y="908.6" font-size="18" text-anchor="start" letter-spacing="0.15" word-spacing="0.9">@ 0.5 A cm<tspan dy="-4.6" font-size="10.5">-2</tspan></text>
<text x="375" y="908" font-size="18" text-anchor="start" letter-spacing="0.15" word-spacing="0.9">@ 1 A cm<tspan dy="-4.6" font-size="10.5">-2</tspan></text>
</svg>
</body></html>
